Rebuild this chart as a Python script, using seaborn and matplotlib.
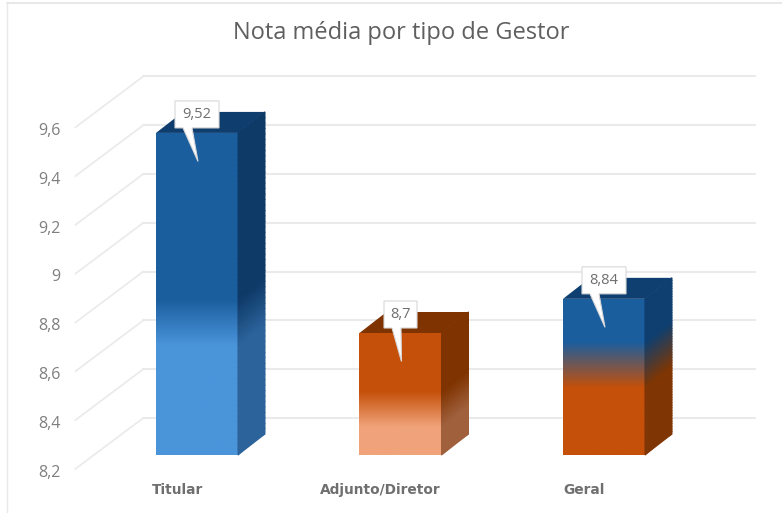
import numpy as np
import matplotlib
matplotlib.use('Agg')
import matplotlib.pyplot as plt
from matplotlib.colors import LinearSegmentedColormap
from matplotlib.lines import Line2D
from matplotlib.patches import Polygon
from matplotlib.transforms import Affine2D
import seaborn as sns

# dados do grafico
categorias = ['Titular', 'Adjunto/Diretor', 'Geral']
posicoes = [0, 1, 2]
notas = [9.52, 8.7, 8.84]
rotulos = ['9,52', '8,7', '8,84']
y_ticks = [8.2, 8.4, 8.6, 8.8, 9.0, 9.2, 9.4, 9.6]
y_rotulos = ['8,2', '8,4', '8,6', '8,8', '9', '9,2', '9,4', '9,6']

# cores: frente (cima, baixo), lateral (cima, baixo), topo, faixa do degrade
cor_frente = [('#1B5E9E', '#4A94DA'), ('#C5500A', '#F0A37A'), ('#1B5E9E', '#C5500A')]
cor_lado = [('#0E3A68', '#2C639B'), ('#7F3300', '#A0603C'), ('#0F3F70', '#7F3604')]
cor_topo = ['#0F3D6E', '#7F3300', '#0F3F70']
faixa = [(0.52, 0.66), (0.48, 0.77), (0.28, 0.57)]
cinza_grade = '#EAEAEA'

sns.set_theme(style='white')
plt.rcParams['font.family'] = ['Open Sans', 'DejaVu Sans']

fig = plt.figure(figsize=(7.82, 5.13), dpi=100)
ax = fig.add_axes([95.25 / 782, (513 - 455) / 513, 610.5 / 782, 341.6 / 513])

sns.barplot(x=posicoes, y=notas, ax=ax, width=0.403, color='#1B5E9E', zorder=2, native_scale=True)

ax.set_xlim(-0.5, 2.5)
ax.set_ylim(8.2, 9.6)
px = 3 / 610.5
py = 1.4 / 341.6


def degrade(i):
    t0, t1 = faixa[i]
    return [(0, 0), (t0, 0), (t1, 1), (1, 1)]


# parede do fundo e linhas diagonais
for v in y_ticks:
    ax.plot([-0.5 + 48 * px, 2.5 + 49 * px], [v + 37 * py, v + 37 * py],
            color=cinza_grade, lw=1.5, clip_on=False, zorder=1)
    ax.plot([-0.5 - 20 * px, -0.5 + 48 * px], [v - 14 * py, v + 37 * py],
            color=cinza_grade, lw=1.2, clip_on=False, zorder=1)

dx = 27 * px
dy = 21 * py
for i, (bar, nota) in enumerate(zip(ax.patches, notas)):
    x0 = bar.get_x()
    x1 = x0 + bar.get_width()
    cores = cor_frente[i]
    stops = degrade(i)
    cmap = LinearSegmentedColormap.from_list('f', [(s[0], cores[s[1]]) for s in stops])
    img = ax.imshow(np.linspace(0, 1, 256).reshape(-1, 1), cmap=cmap, aspect='auto',
                    extent=(x0, x1, 8.2, nota), origin='upper', zorder=3, vmin=0, vmax=1)
    img.set_clip_path(bar)

    # lateral
    lado = cor_lado[i]
    cmap_l = LinearSegmentedColormap.from_list('l', [(s[0], lado[s[1]]) for s in stops])
    fr = np.linspace(0, 1, 60)
    alt = nota - fr * (nota - 8.2)
    X = np.column_stack([np.full(60, x1), np.full(60, x1 + dx)])
    Y = np.column_stack([alt, alt + dy])
    C = np.column_stack([fr, fr])
    ax.pcolormesh(X, Y, C, cmap=cmap_l, shading='gouraud', vmin=0, vmax=1,
                  zorder=3, clip_on=False)

    # topo
    ax.add_patch(Polygon([(x0, nota), (x1, nota), (x1 + dx, nota + dy), (x0 + dx, nota + dy)],
                         facecolor=cor_topo[i], edgecolor='none', zorder=3, clip_on=False))

    # rotulo com ponteiro
    larg = 44 if len(rotulos[i]) > 3 else 33
    cx = posicoes[i]
    base = nota + 5 * py
    topo_box = base + 27 * py
    pts = [(cx - larg / 2 * px, base), (cx - (larg / 2 - 8) * px, base),
           (cx + 1 * px, nota - 28.5 * py), (cx - (larg / 2 - 17) * px, base),
           (cx + larg / 2 * px, base), (cx + larg / 2 * px, topo_box),
           (cx - larg / 2 * px, topo_box)]
    ax.add_patch(Polygon(pts, closed=True, facecolor='white', edgecolor='#D8D8D8', lw=0.8,
                         zorder=5, clip_on=False))
    ax.text(cx, (base + topo_box) / 2, rotulos[i], ha='center', va='center',
            fontsize=10.5, color='#6E6E6E', zorder=6)

ax.set_xlim(-0.5, 2.5)
ax.set_ylim(8.2, 9.6)
ax.set_yticks(y_ticks)
ax.set_yticklabels(y_rotulos, fontsize=11.5, color='#7F7F7F')
ax.set_xticks(posicoes)
ax.set_xticklabels(categorias, fontsize=9.9, color='#6F6F6F', fontweight='bold',
                   family='DejaVu Sans')
ax.tick_params(axis='y', length=0, pad=10.5)
ax.tick_params(axis='x', length=0, pad=20.5)
for lab in ax.get_xticklabels():
    lab.set_transform(lab.get_transform() + Affine2D().translate(-20, 0))
for lab in ax.get_yticklabels():
    lab.set_transform(lab.get_transform() + Affine2D().translate(-20, -15.5))
sns.despine(ax=ax, left=True, bottom=True, right=True, top=True)
ax.patch.set_alpha(0)

fig.text(401 / 782, 1 - 33 / 513, 'Nota média por tipo de Gestor', ha='center', va='center',
         fontsize=17, color='#5F5F5F')
fig.add_artist(Line2D([7 / 782, 7 / 782], [0, 1 - 3 / 513], color='#E8E8E8', lw=1))
fig.add_artist(Line2D([7 / 782, 1], [1 - 3 / 513, 1 - 3 / 513], color='#E8E8E8', lw=1.5))

fig.savefig('out.png', dpi=100)
